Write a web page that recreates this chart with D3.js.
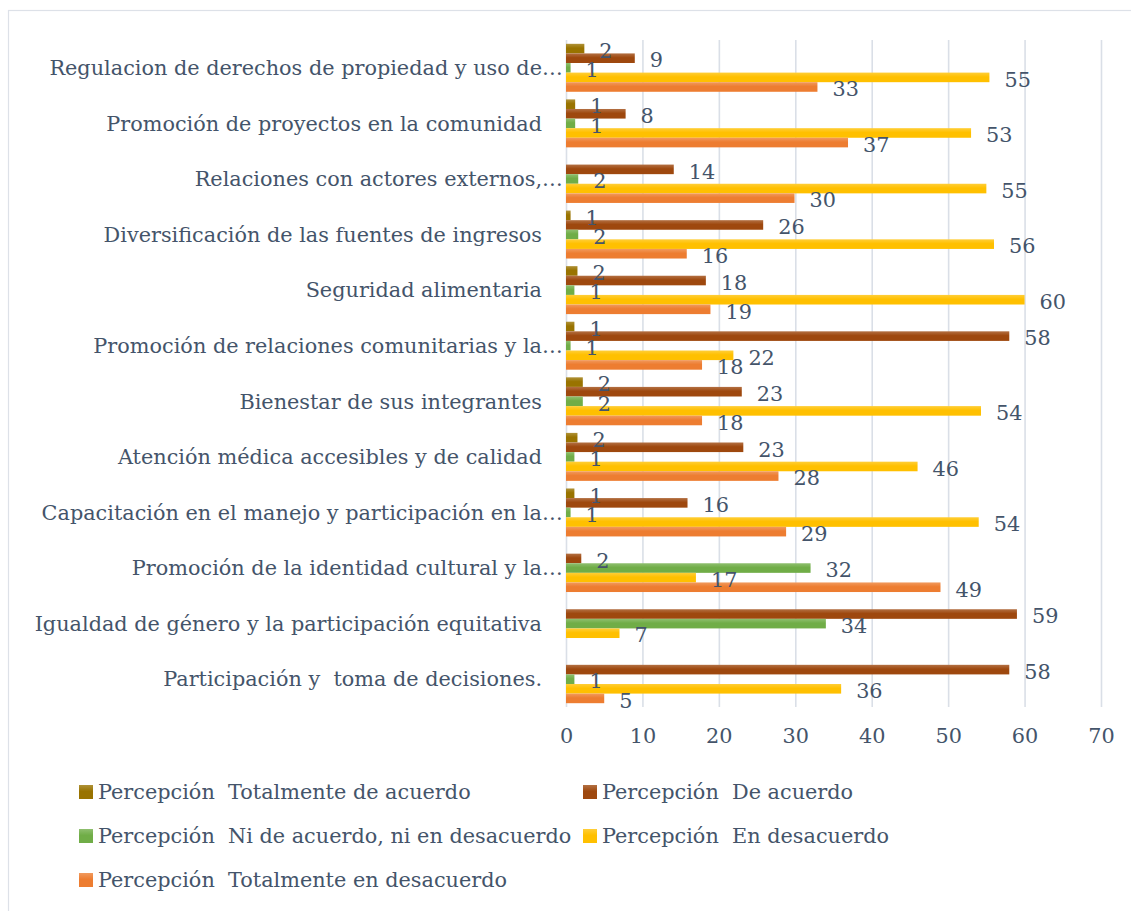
<!DOCTYPE html>
<html>
<head>
<meta charset="utf-8">
<script src="https://cdn.jsdelivr.net/npm/d3@7"></script>
<style>
  body { margin: 0; background: #fff; }
  text { font-family: "DejaVu Serif", serif; fill: #44546A; white-space: pre; }
</style>
</head>
<body>
<svg width="1131" height="911"></svg>
<script>
var categories = [
  'Regulacion de derechos de propiedad y uso de…',
  'Promoción de proyectos en la comunidad',
  'Relaciones con actores externos,…',
  'Diversificación de las fuentes de ingresos',
  'Seguridad alimentaria',
  'Promoción de relaciones comunitarias y la…',
  'Bienestar de sus integrantes',
  'Atención médica accesibles y de calidad',
  'Capacitación en el manejo y participación en la…',
  'Promoción de la identidad cultural y la…',
  'Igualdad de género y la participación equitativa',
  'Participación y  toma de decisiones.'
];

var seriesNames = [
  'Percepción  Totalmente de acuerdo',
  'Percepción  De acuerdo',
  'Percepción  Ni de acuerdo, ni en desacuerdo',
  'Percepción  En desacuerdo',
  'Percepción  Totalmente en desacuerdo'
];

// values per category (top to bottom)
var totalmenteAcuerdo = [2.4, 1.2, 0, 0.6, 1.5, 1.1, 2.2, 1.5, 1.1, 0, 0, 0];
var deAcuerdo = [9, 7.8, 14.1, 25.8, 18.3, 58, 23, 23.2, 15.9, 2, 59, 58];
var niAcuerdo = [0.6, 1.2, 1.6, 1.6, 1.1, 0.6, 2.2, 1.1, 0.6, 32, 34, 1.1];
var enDesacuerdo = [55.4, 53, 55, 56, 60, 21.9, 54.3, 46, 54, 17, 7, 36];
var totalmenteDesacuerdo = [32.9, 36.9, 29.9, 15.8, 18.9, 17.8, 17.8, 27.8, 28.8, 49, 0, 5];

var xTicks = [0, 10, 20, 30, 40, 50, 60, 70];
var colors = ['#997300', '#9E480E', '#70AD47', '#FFC000', '#ED7D31'];

var seriesValues = [totalmenteAcuerdo, deAcuerdo, niAcuerdo, enDesacuerdo, totalmenteDesacuerdo];

var margin = {top: 40, left: 566, right: 30, bottom: 204};
var fontSize = 20.8;
var svg = d3.select('svg');

// outer frame
svg.append('rect')
  .attr('x', 8.5).attr('y', 10.5)
  .attr('width', 1140).attr('height', 920)
  .attr('fill', 'none').attr('stroke', '#DDE1E8').attr('stroke-width', 1.2);

// gradients
var defs = svg.append('defs');
colors.forEach((c, i) => {
  var g = defs.append('linearGradient')
    .attr('id', 'grad' + i)
    .attr('x1', 0).attr('y1', 0).attr('x2', 0).attr('y2', 1);
  g.append('stop').attr('offset', '0%').attr('stop-color', d3.interpolateRgb(c, '#fff')(0.22));
  g.append('stop').attr('offset', '45%').attr('stop-color', c);
  g.append('stop').attr('offset', '100%').attr('stop-color', c);
});

// scales
var xScale = d3.scaleLinear()
  .domain([0, 70])
  .range([margin.left, 1101]);

var yScale = d3.scaleBand()
  .domain(categories)
  .range([margin.top, 707])
  .paddingInner(0.137)
  .paddingOuter(0.0685);

var inner = d3.scaleBand()
  .domain(d3.range(seriesNames.length))
  .range([0, yScale.bandwidth()]);

// grid lines
var grid = svg.append('g')
  .attr('transform', 'translate(0,' + margin.top + ')')
  .call(d3.axisBottom(xScale).tickValues(xTicks).tickSize(707 - margin.top).tickFormat(''));
grid.select('.domain').remove();
grid.selectAll('line').attr('stroke', '#DADFE7').attr('stroke-width', 1.6);

// x axis labels
var xAxis = svg.append('g')
  .attr('transform', 'translate(0,707)')
  .call(d3.axisBottom(xScale).tickValues(xTicks).tickSize(0).tickPadding(21));
xAxis.select('.domain').remove();
xAxis.selectAll('text')
  .attr('font-size', fontSize)
  .attr('font-family', '"DejaVu Serif", serif')
  .attr('fill', '#44546A');

// category labels
var catG = svg.append('g');
categories.forEach(c => {
  var y = yScale(c) + yScale.bandwidth() / 2;
  var truncated = c.endsWith('…');
  var base = truncated ? c.slice(0, -1) : c;
  catG.append('text')
    .attr('x', 542).attr('y', y).attr('dy', '0.35em')
    .attr('text-anchor', 'end')
    .attr('font-size', fontSize)
    .text(base);
  if (truncated) {
    catG.append('text')
      .attr('x', 542).attr('y', y).attr('dy', '0.35em')
      .attr('font-size', fontSize)
      .text('…');
  }
});

// bars
var fmt = d3.format('.0f');
seriesValues.forEach((vals, s) => {
  var g = svg.append('g');
  g.selectAll('rect')
    .data(vals)
    .join('rect')
    .attr('x', xScale(0))
    .attr('y', (d, i) => yScale(categories[i]) + inner(s))
    .attr('width', d => xScale(d) - xScale(0))
    .attr('height', inner.bandwidth())
    .attr('fill', 'url(#grad' + s + ')');
});

// value labels
seriesValues.forEach((vals, s) => {
  svg.append('g').selectAll('text')
    .data(vals.map((v, i) => ({v: v, i: i})).filter(d => d.v > 0))
    .join('text')
    .attr('x', d => xScale(d.v) + 15)
    .attr('y', d => yScale(categories[d.i]) + inner(s) + inner.bandwidth() / 2 + 2)
    .attr('dy', '0.35em')
    .attr('font-size', fontSize)
    .text(d => fmt(d.v));
});

// legend
var legendCols = [79, 583];
var legendRows = [792, 836, 880];
var legend = svg.append('g');
seriesNames.forEach((name, i) => {
  var lx = legendCols[i % 2], ly = legendRows[Math.floor(i / 2)];
  legend.append('rect')
    .attr('x', lx).attr('y', ly - 7)
    .attr('width', 14).attr('height', 14)
    .attr('fill', 'url(#grad' + i + ')');
  legend.append('text')
    .attr('x', lx + 19).attr('y', ly).attr('dy', '0.35em')
    .attr('font-size', fontSize)
    .text(name);
});
</script>
</body>
</html>
